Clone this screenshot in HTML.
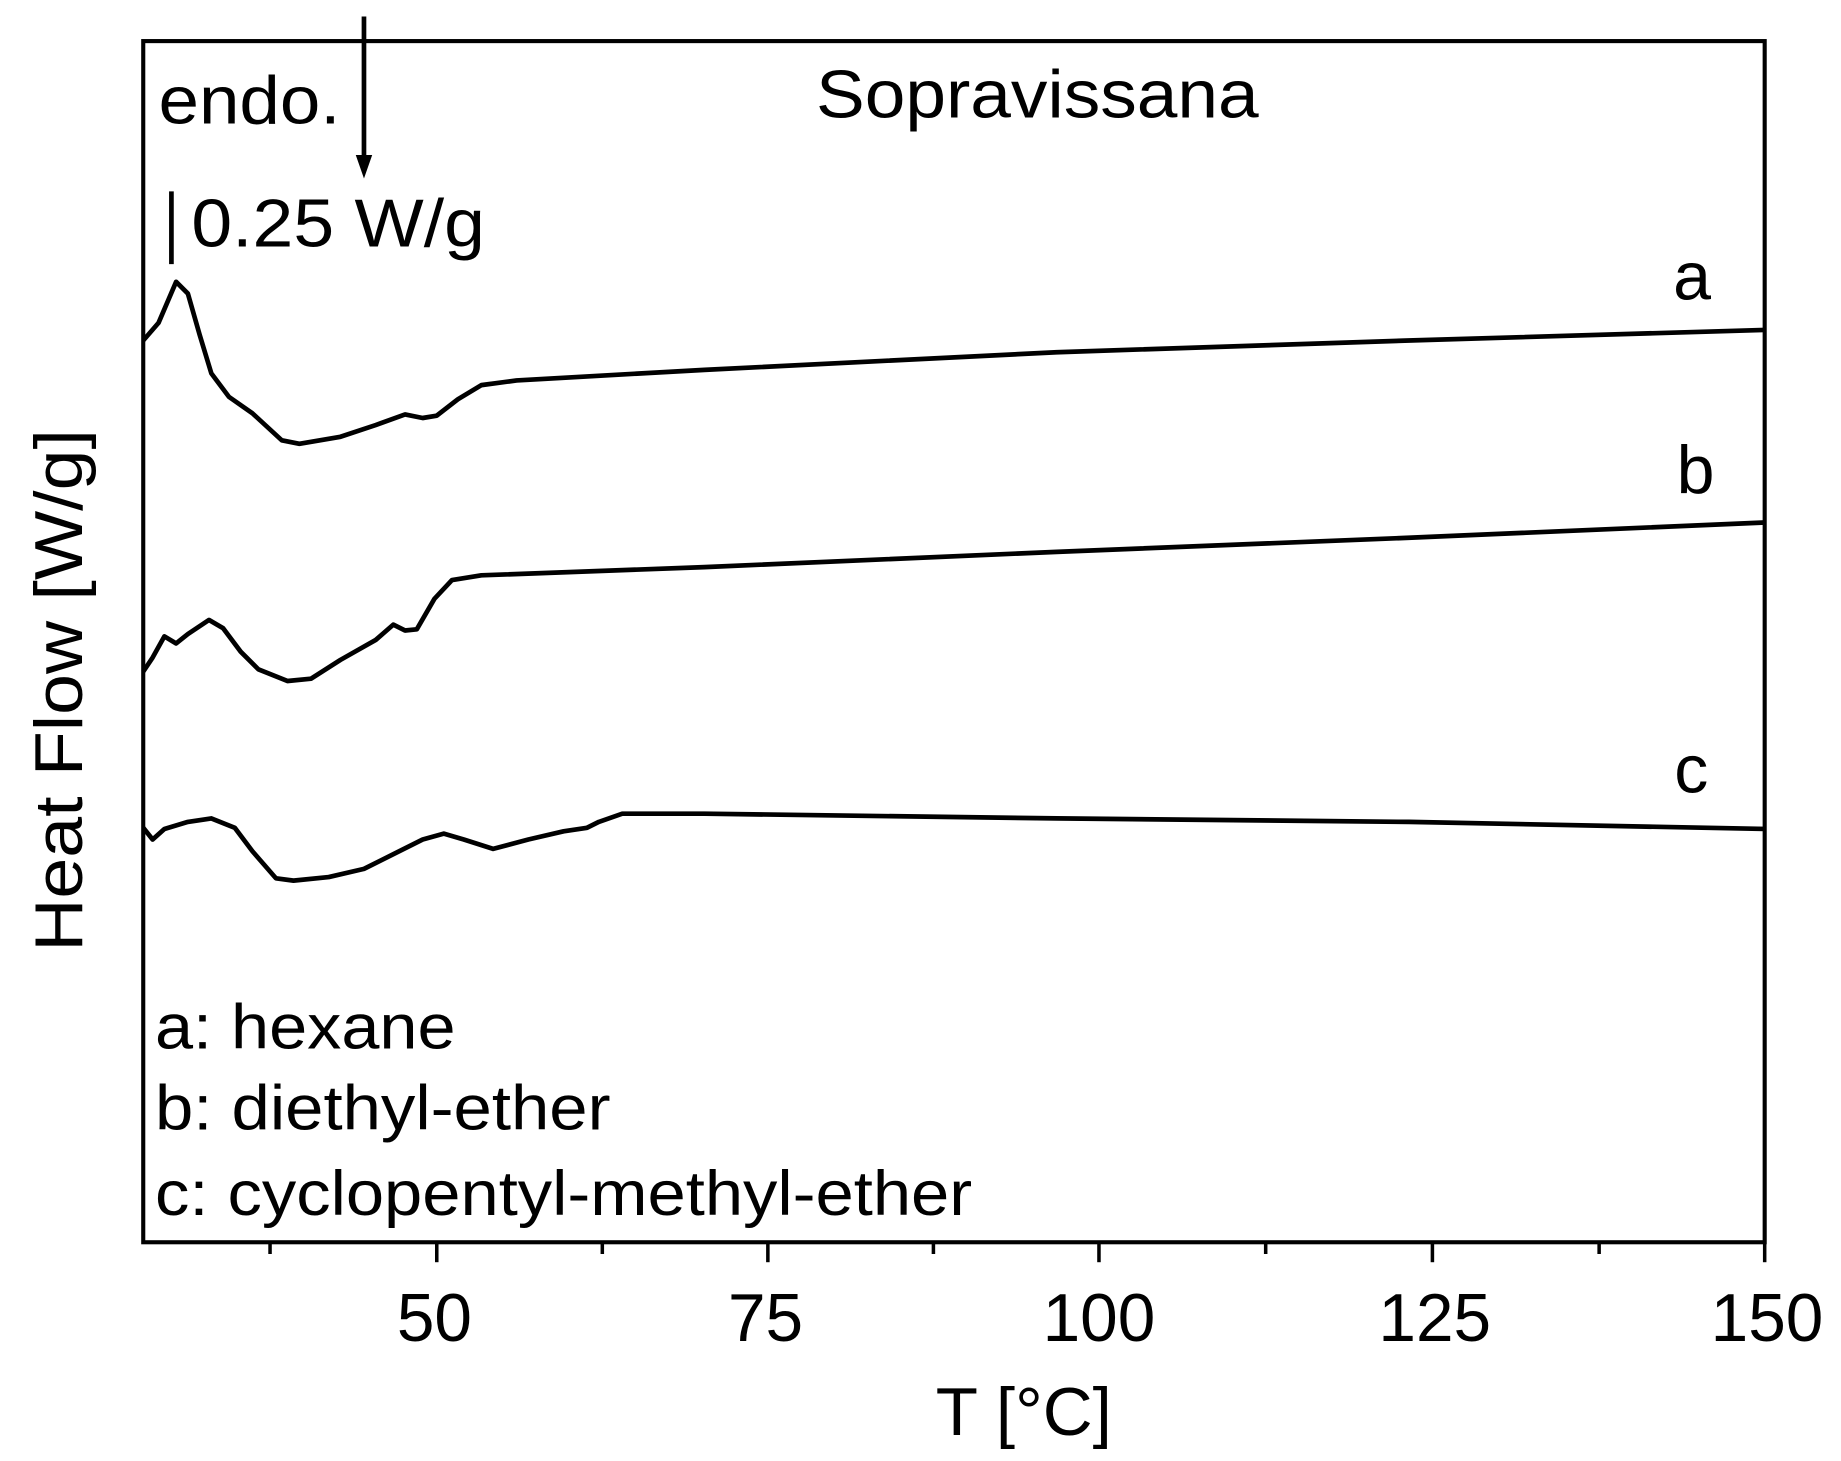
<!DOCTYPE html>
<html><head><style>html,body{margin:0;padding:0;background:#fff}svg{display:block}</style></head>
<body>
<svg width="1841" height="1461" viewBox="0 0 1568 1244.3" preserveAspectRatio="none" xmlns="http://www.w3.org/2000/svg" font-family="Liberation Sans, Arial, sans-serif" fill="#000">
<rect x="122" y="35" width="1381" height="1023" fill="none" stroke="#000" stroke-width="3.5"/>
<g stroke="#000" stroke-width="3">
<line x1="230" y1="1058" x2="230" y2="1068"/><line x1="372" y1="1058" x2="372" y2="1075"/>
<line x1="513" y1="1058" x2="513" y2="1068"/><line x1="654" y1="1058" x2="654" y2="1075"/>
<line x1="795" y1="1058" x2="795" y2="1068"/><line x1="936" y1="1058" x2="936" y2="1075"/>
<line x1="1078" y1="1058" x2="1078" y2="1068"/><line x1="1220" y1="1058" x2="1220" y2="1075"/>
<line x1="1362" y1="1058" x2="1362" y2="1068"/><line x1="1503" y1="1058" x2="1503" y2="1075"/>
</g>
<g font-size="58" text-anchor="middle">
<text x="370" y="1142" textLength="64" lengthAdjust="spacingAndGlyphs">50</text><text x="652" y="1142" textLength="64" lengthAdjust="spacingAndGlyphs">75</text><text x="936" y="1142" textLength="96" lengthAdjust="spacingAndGlyphs">100</text><text x="1222" y="1142" textLength="96" lengthAdjust="spacingAndGlyphs">125</text><text x="1505" y="1142" textLength="96" lengthAdjust="spacingAndGlyphs">150</text>
<text x="872" y="1222" textLength="150" lengthAdjust="spacingAndGlyphs">T [°C]</text>
</g>
<text transform="translate(70,588) rotate(-90)" font-size="58" text-anchor="middle" textLength="445" lengthAdjust="spacingAndGlyphs">Heat Flow [W/g]</text>
<g fill="none" stroke="#000" stroke-width="4" stroke-linejoin="round">
<polyline points="122,290 135,275 150,240 160,250 170,285 180,318 195,338 215,352 240,375 255,378 290,372 320,362 345,353 360,356 372,354 390,340 410,328 440,324 600,315 900,300 1200,290 1503,281"/>
<polyline points="122,572 130,560 140,542 150,548 160,540 178,528 190,535 205,555 220,570 245,580 265,578 290,562 320,545 335,532 345,537 355,536 370,510 385,494 410,490 600,483 900,470 1200,458 1503,445"/>
<polyline points="122,705 130,715 140,706 160,700 180,697 200,705 215,725 235,748 250,750 280,747 310,740 340,725 360,715 378,710 395,715 420,723 450,715 480,708 500,705 510,700 530,693 600,693 900,697 1200,700 1503,706"/>
<line x1="310" y1="14" x2="310" y2="140"/>
<line x1="146" y1="163" x2="146" y2="225"/>
</g>
<polygon points="303,132 317,132 310,152"/>
<g font-size="58">
<text x="135" y="105" textLength="155" lengthAdjust="spacingAndGlyphs">endo.</text>
<text x="695" y="100" textLength="377" lengthAdjust="spacingAndGlyphs">Sopravissana</text>
<text x="163" y="210" textLength="250" lengthAdjust="spacingAndGlyphs">0.25 W/g</text>
<text x="1425" y="255">a</text><text x="1428" y="420">b</text><text x="1426" y="675">c</text>
</g>
<g font-size="54">
<text x="132" y="893" textLength="256" lengthAdjust="spacingAndGlyphs">a: hexane</text>
<text x="132" y="962" textLength="388" lengthAdjust="spacingAndGlyphs">b: diethyl-ether</text>
<text x="132" y="1035" textLength="696" lengthAdjust="spacingAndGlyphs">c: cyclopentyl-methyl-ether</text>
</g>
</svg>
</body></html>
